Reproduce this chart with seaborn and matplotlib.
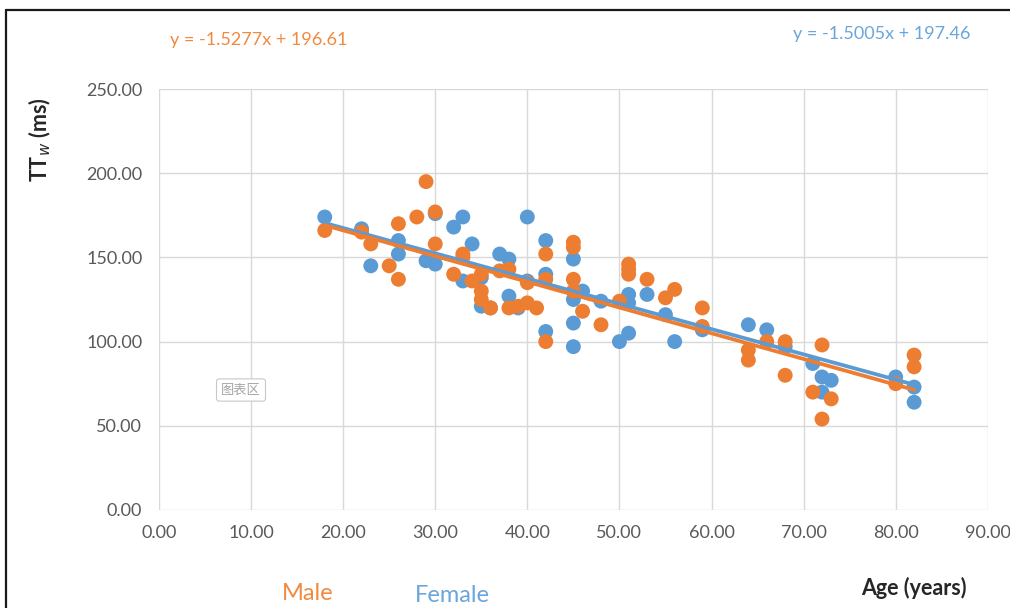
import numpy as np
import pandas as pd
import matplotlib
matplotlib.use("Agg")
import matplotlib.pyplot as plt
from matplotlib.lines import Line2D
import seaborn as sns

# Male readings: age (years) and TTw (ms)
male_age = [18, 22, 23, 25, 26, 26, 28, 29, 30, 30, 32, 33, 33, 34, 35, 35, 35,
            36, 37, 38, 38, 39, 40, 40, 41, 42, 42, 42, 45, 45, 45, 45, 46, 48,
            50, 51, 51, 51, 53, 55, 56, 59, 59, 64, 64, 66, 68, 68, 71, 72, 72,
            73, 80, 82, 82]
male_tt = [166, 165, 158, 145, 137, 170, 174, 195, 177, 158, 140, 152, 150, 136,
           140, 130, 125, 120, 142, 143, 120, 121, 135, 123, 120, 152, 137, 100,
           159, 156, 137, 130, 118, 110, 124, 146, 143, 140, 137, 126, 131, 120,
           109, 95, 89, 100, 100, 80, 70, 98, 54, 66, 75, 92, 85]

# Female readings: age (years) and TTw (ms)
female_age = [18, 22, 23, 26, 26, 29, 30, 30, 32, 33, 33, 34, 35, 35, 36, 37, 38,
              38, 39, 40, 40, 42, 42, 42, 45, 45, 45, 45, 46, 48, 50, 51, 51, 51,
              53, 55, 56, 59, 64, 66, 68, 71, 72, 72, 73, 80, 82, 82]
female_tt = [174, 167, 145, 160, 152, 148, 176, 146, 168, 174, 136, 158, 138, 121,
             120, 152, 149, 127, 120, 174, 136, 160, 140, 106, 149, 125, 111, 97,
             130, 124, 100, 128, 123, 105, 128, 116, 100, 107, 110, 107, 97, 87,
             79, 70, 77, 79, 73, 64]

# Linear trend coefficients (slope, intercept)
male_fit = (-1.5277, 196.61)
female_fit = (-1.5005, 197.46)

x_ticks = [0, 10, 20, 30, 40, 50, 60, 70, 80, 90]
y_ticks = [0, 50, 100, 150, 200, 250]

ORANGE = "#ED7D31"
BLUE = "#5B9BD5"
ORANGE_TXT = "#F08A3E"
BLUE_TXT = "#6AA6DA"
GRID = "#D9D9D9"
TICK = "#595959"

sns.set_theme(style="white")
plt.rcParams["font.family"] = ["Lato", "DejaVu Sans"]

df = pd.concat([
    pd.DataFrame({"age": female_age, "tt": female_tt, "sex": "Female"}),
    pd.DataFrame({"age": male_age, "tt": male_tt, "sex": "Male"}),
], ignore_index=True)

fig = plt.figure(figsize=(10.10, 6.08), dpi=100)
ax = fig.add_axes([0.1574, 0.1612, 0.978 - 0.1574, 0.8536 - 0.1612])

sns.scatterplot(data=df, x="age", y="tt", hue="sex",
                palette={"Female": BLUE, "Male": ORANGE},
                s=115, edgecolor="none", linewidth=0, legend=False, ax=ax,
                zorder=3)

# Trend lines over each group's age span
for ages, (m, b), col in [(female_age, female_fit, BLUE),
                          (male_age, male_fit, ORANGE)]:
    xs = np.array([min(ages), max(ages)], dtype=float)
    sns.lineplot(x=xs, y=m * xs + b, color=col, linewidth=2.7, ax=ax,
                 zorder=4)

ax.set_xlim(0, 90)
ax.set_ylim(0, 250)
ax.set_xticks(x_ticks)
ax.set_yticks(y_ticks)
ax.set_xticklabels([f"{v:.2f}" for v in x_ticks])
ax.set_yticklabels([f"{v:.2f}" for v in y_ticks])
ax.tick_params(axis="both", length=0, labelsize=13, labelcolor=TICK)
ax.tick_params(axis="x", pad=11)
ax.tick_params(axis="y", pad=12)
ax.grid(True, color=GRID, linewidth=1.0)
ax.set_axisbelow(True)
for sp in ax.spines.values():
    sp.set_visible(False)
ax.set_xlabel("")
ax.set_ylabel("")

# Equation labels
fig.text(170 / 1010, 1 - 40 / 608, "y = -1.5277x + 196.61", color=ORANGE_TXT,
         fontsize=13, ha="left", va="center")
fig.text(970 / 1010, 1 - 34 / 608, "y = -1.5005x + 197.46", color=BLUE_TXT,
         fontsize=13, ha="right", va="center")

# Axis titles
fig.text(40 / 1010, 1 - 140 / 608, r"TT$_{\mathit{w}}$ (ms)", rotation=90,
         fontsize=15.5, fontweight="bold", ha="center", va="center")
fig.text(914 / 1010, 1 - 588 / 608, "Age (years)", fontsize=15.5,
         fontweight="bold", ha="center", va="center")

# Series names
fig.text(308 / 1010, 1 - 593 / 608, "Male", color=ORANGE_TXT, fontsize=17,
         ha="center", va="center")
fig.text(452 / 1010, 1 - 596 / 608, "Female", color=BLUE_TXT, fontsize=17,
         ha="center", va="center")

# Chart-area tag
fig.text(241 / 1010, 1 - 390 / 608, "图表区", color="#A6A6A6", fontsize=9.5,
         family=["Noto Sans CJK SC", "DejaVu Sans"], ha="center", va="center",
         bbox=dict(boxstyle="round,pad=0.35,rounding_size=0.2", fc="white",
                   ec="#C8C8C8", lw=0.8))

# Outer frame (top and left edges)
fig.add_artist(Line2D([6 / 1010, 1.0], [1 - 10 / 608, 1 - 10 / 608],
                      color="#1a1a1a", lw=1.6, transform=fig.transFigure))
fig.add_artist(Line2D([6 / 1010, 6 / 1010], [0.0, 1 - 10 / 608],
                      color="#1a1a1a", lw=1.6, transform=fig.transFigure))

fig.savefig("out.png", dpi=100, facecolor="white")
